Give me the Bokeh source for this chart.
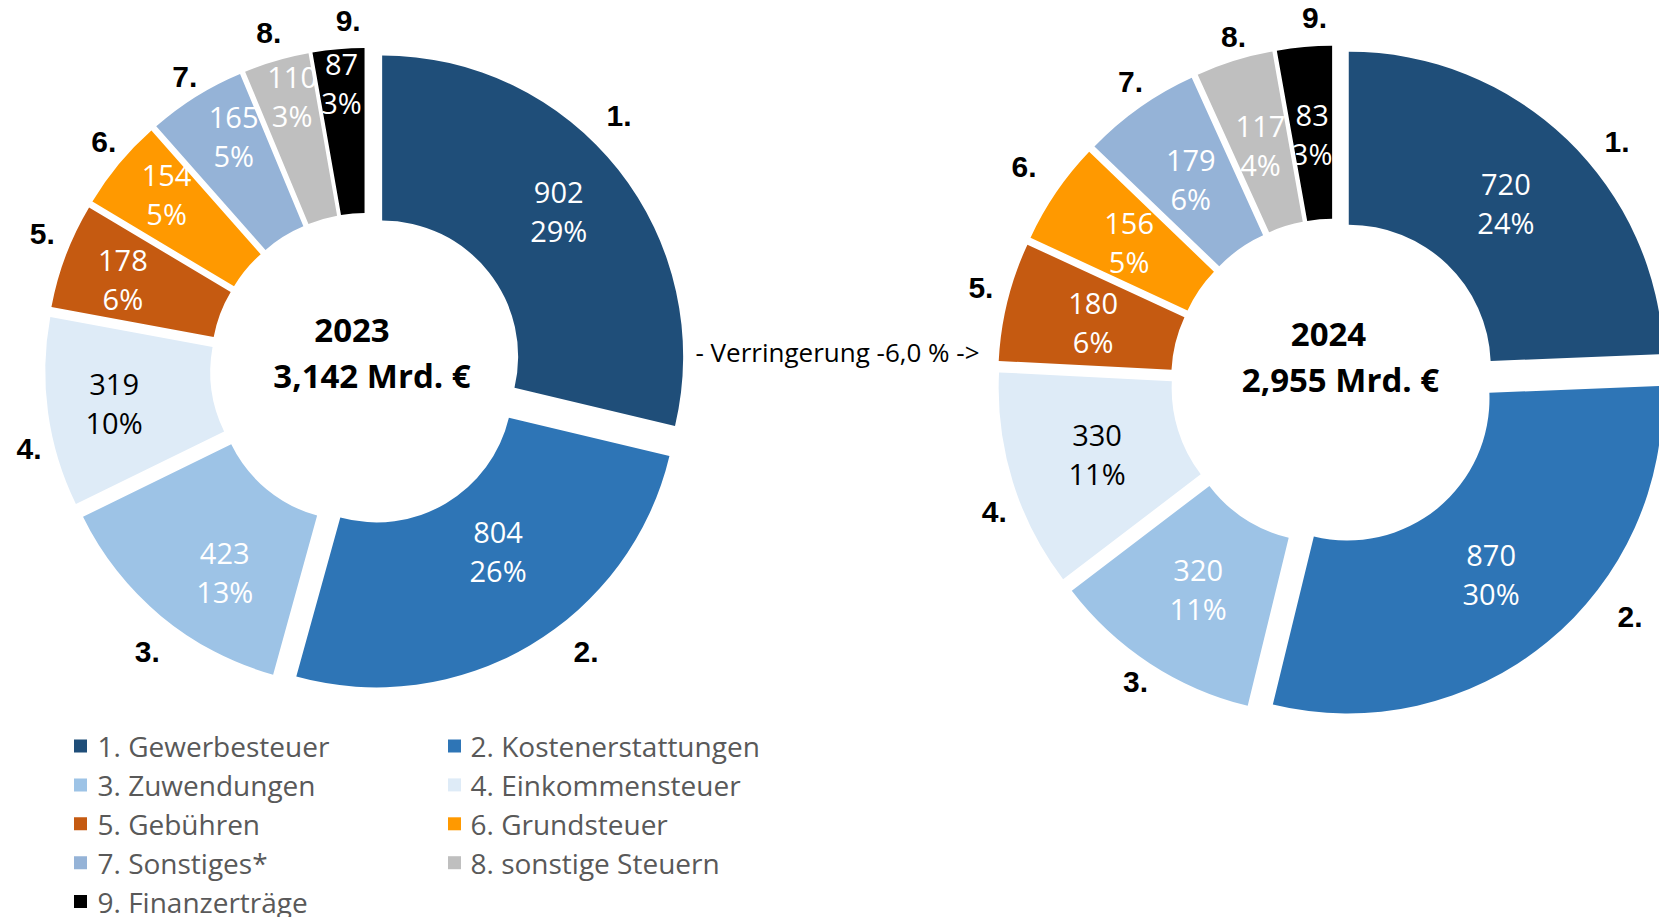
import math
from bokeh.plotting import figure
from bokeh.models import Range1d, ColumnDataSource
from bokeh.core.properties import value
from bokeh.embed import file_html
from bokeh.resources import INLINE

# ---------------- data ----------------
categories = ["1. Gewerbesteuer", "2. Kostenerstattungen", "3. Zuwendungen",
              "4. Einkommensteuer", "5. Gebühren", "6. Grundsteuer",
              "7. Sonstiges*", "8. sonstige Steuern", "9. Finanzerträge"]
slice_numbers = ["1.", "2.", "3.", "4.", "5.", "6.", "7.", "8.", "9."]
values_2023 = [902, 804, 423, 319, 178, 154, 165, 110, 87]
pct_2023 = ["29%", "26%", "13%", "10%", "6%", "5%", "5%", "3%", "3%"]
values_2024 = [720, 870, 320, 330, 180, 156, 179, 117, 83]
pct_2024 = ["24%", "30%", "11%", "11%", "6%", "5%", "6%", "4%", "3%"]
years = ["2023", "2024"]
totals = ["3,142 Mrd. €", "2,955 Mrd. €"]
change_label = "- Verringerung -6,0 % ->"

# ---------------- style ----------------
colors = ["#1F4E79", "#2E75B6", "#9DC3E6", "#DEEBF7", "#C55A11",
          "#FF9900", "#95B3D7", "#BFBFBF", "#000000"]
label_colors = ["#FFFFFF", "#FFFFFF", "#FFFFFF", "#000000", "#FFFFFF",
                "#FFFFFF", "#FFFFFF", "#FFFFFF", "#FFFFFF"]

W = 1659
H = 917  # data y = H - screen y

layouts = [
    dict(cx=365.8, cy=368.5, R=301, r=136, d=20.2,
         val_f=[0.54, 0.46, 0.60, 0.60, 0.62, 0.65, 0.66, 0.76, 0.78],
         val_dang=[0, -4, -6, -1, -1, 1, 2, 1, 0],
         val_dy=[5, 8.5, 8.5, 4.5, 2, 3, 2.5, 1, 1.5],
         num_dang=[-6, -7, -2, -6, 2, 1, 0, 0, 2],
         num_ddist=[3, 10, 8, -3, 1, -4, -8, -2, -2],
         num_dy=[6, 2, 0, 3, 0, 1, 2, 2, 0],
         year_xy=(351.5, 330), total_xy=(371.5, 375)),
    dict(cx=1333.5, cy=381.5, R=315, r=142, d=21.3,
         val_f=[0.49] * 9,
         val_dang=[0] * 9,
         val_dy=[0, -1, 0, 1, 0, 0, 0, 0, 0],
         num_dang=[6, -12, 0, -4, 1, 0, 1, 1, 2],
         num_ddist=[5, 14, -3, -1, 0, 10, -4, -6, 1],
         num_dy=[1, 2, 3, 2, 0, 3, 1, 0, -2],
         year_xy=(1328, 334), total_xy=(1340, 379)),
]

p = figure(width=W, height=H, output_backend="svg", toolbar_location=None,
           x_range=Range1d(0, W), y_range=Range1d(0, H),
           x_axis_location=None, y_axis_location=None,
           min_border=0, min_border_left=0, min_border_right=0,
           min_border_top=0, min_border_bottom=0)
p.outline_line_color = None
p.xgrid.visible = False
p.ygrid.visible = False
p.background_fill_color = "white"
p.border_fill_color = "white"


def draw_donut(vals, pcts, year, total, L):
    tot = float(sum(vals))
    cum = 0.0
    wx, wy, ws, we = [], [], [], []
    vx, vy1, vy2 = [], [], []
    nx, ny = [], []
    for i, v in enumerate(vals):
        t1 = cum / tot * 360.0
        cum += v
        t2 = cum / tot * 360.0
        tm = (t1 + t2) / 2.0
        rad = math.radians(tm)
        ox = L["cx"] + L["d"] * math.sin(rad)
        oy = (H - L["cy"]) + L["d"] * math.cos(rad)
        wx.append(ox)
        wy.append(oy)
        ws.append(math.radians(90.0 - t2))
        we.append(math.radians(90.0 - t1))
        # value labels
        ra = math.radians(tm + L["val_dang"][i])
        dist = L["d"] + L["r"] + L["val_f"][i] * (L["R"] - L["r"])
        lx = L["cx"] + dist * math.sin(ra)
        ly = (H - L["cy"]) + dist * math.cos(ra) + L["val_dy"][i]
        vx.append(lx)
        vy1.append(ly + 19)
        vy2.append(ly - 19)
        # number labels
        na = math.radians(tm + L["num_dang"][i])
        nd = L["R"] + L["d"] + 29 + L["num_ddist"][i]
        nx.append(L["cx"] + nd * math.sin(na))
        ny.append((H - L["cy"]) + nd * math.cos(na) + L["num_dy"][i])

    src = ColumnDataSource(dict(x=wx, y=wy, s=ws, e=we, c=colors))
    p.annular_wedge(x="x", y="y", inner_radius=L["r"], outer_radius=L["R"],
                    start_angle="s", end_angle="e", fill_color="c",
                    line_color=None, source=src)

    vsrc = ColumnDataSource(dict(x=vx, y1=vy1, y2=vy2,
                                 t1=[str(v) for v in vals], t2=pcts,
                                 c=label_colors))
    for ycol, tcol in (("y1", "t1"), ("y2", "t2")):
        p.text(x="x", y=ycol, text=tcol, source=vsrc, text_color="c",
               text_font=value("Open Sans"), text_font_size="29px",
               text_align="center", text_baseline="middle")

    p.text(x=nx, y=ny, text=slice_numbers, text_color="#000000",
           text_font=value("Liberation Sans"), text_font_style="bold",
           text_font_size="30px", text_align="center", text_baseline="middle")

    p.text(x=[L["year_xy"][0]], y=[H - L["year_xy"][1]], text=[year],
           text_color="#000000", text_font=value("Open Sans"),
           text_font_style="bold", text_font_size="33px",
           text_align="center", text_baseline="middle")
    p.text(x=[L["total_xy"][0]], y=[H - L["total_xy"][1]], text=[total],
           text_color="#000000", text_font=value("Open Sans"),
           text_font_style="bold", text_font_size="33px",
           text_align="center", text_baseline="middle")


draw_donut(values_2023, pct_2023, years[0], totals[0], layouts[0])
draw_donut(values_2024, pct_2024, years[1], totals[1], layouts[1])

# change annotation
p.text(x=[837], y=[H - 351], text=[change_label], text_color="#000000",
       text_font=value("Open Sans"), text_font_size="26px",
       text_align="center", text_baseline="middle")

# legend (two columns)
col_sq_x = [80, 454]
col_tx_x = [97, 470]
row_y0 = 745.5
row_dy = 38.9
lsx, lsy, ltx, lty = [], [], [], []
for i, cat in enumerate(categories):
    col = i % 2
    row = i // 2
    yy = H - (row_y0 + row * row_dy)
    lsx.append(col_sq_x[col])
    lsy.append(yy)
    ltx.append(col_tx_x[col])
    lty.append(yy)
p.rect(x=lsx, y=lsy, width=13, height=13, fill_color=colors, line_color=None)
p.text(x=ltx, y=lty, text=categories, text_color="#595959",
       text_font=value("Open Sans"), text_font_size="28px",
       text_align="left", text_baseline="middle")

open("out.html", "w").write(file_html(p, INLINE))
